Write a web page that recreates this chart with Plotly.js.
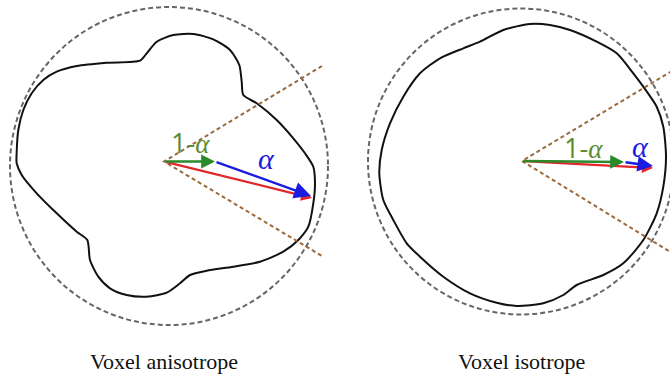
<!DOCTYPE html>
<html>
<head>
<meta charset="utf-8">
<script src="https://cdn.plot.ly/plotly-3.0.1.min.js"></script>
<style>html,body{margin:0;padding:0;background:#fff;}#chart{width:670px;height:376px;}</style>
</head>
<body>
<div id="chart"></div>
<script>
// Outline of the anisotropic voxel response (pixel-space points)
const anisoX = [16.7,18.3,23.3,31.7,43.3,56.7,76.7,106.7,140,146.7,156.7,173.3,193.3,213.3,230,239.3,241.7,243.3,256.7,276.7,293.3,305,313.3,315,313.3,308.3,298.3,283.3,260,233.3,206.7,190,180,166.7,146.7,126.7,110,98.3,90,87.3,76.7,56.7,36.7,21.7,16.7,16.7];
const anisoY = [151.7,130,110,93.3,80,71.7,66,62.7,60.7,53.3,41.7,35,34,39.3,50,65,81.7,95,103.3,120,138.3,153.3,166.7,183.3,203.3,226.7,240,251.7,261.7,266.7,270.7,275,283.3,292.7,296.7,295,288.3,276.7,260,240,231.7,213.3,193.3,175,163.3,151.7];
// Outline of the isotropic voxel response
const isoX = [530,503.3,480,463.3,440,420,403.3,390,381.7,379.3,383.3,393.3,406.7,420,443.3,470,496.7,516.7,543.3,563.3,576.7,603.3,623.3,643.3,656.7,663.3,666,663.3,656.7,643.3,633.3,616.7,596.7,570,550,530];
const isoY = [24,30,41.7,48.3,58.3,73.3,96.7,123.3,150,173.3,200,220,243.3,256.7,276.7,293.3,302.7,306,303.3,295,285,275,263.3,240,213.3,186.7,156.7,126.7,106.7,86.7,73.3,53.3,41.7,30,25,24];

// Reference (bounding) circles: [cx, cy, r]
const anisoCircle = [169, 166, 159];
const isoCircle = [521, 161.5, 153];

// Vector points: origin, (1-alpha) tip, final tip
const anisoOrigin = [164, 161.5];
const anisoGreenTip = [215, 161.5];
const anisoBlueTip = [311, 196];
const anisoRedTip = [312, 198];
const isoOrigin = [522, 161];
const isoGreenTip = [624, 162];
const isoBlueTip = [653, 166];
const isoRedTip = [653, 168];

// Cone edges (dotted brown lines): end points
const anisoConeUp = [322, 66];
const anisoConeDown = [322, 256];
const isoConeUp = [672, 71];
const isoConeDown = [672, 253];

// Texts
const panelLabels = ["Voxel anisotrope", "Voxel isotrope"];
const panelLabelX = [164, 521];
const greenLabel = "1-<span style=\"font-family:'Liberation Serif'\"><i>α</i></span>";
const blueLabel = "<span style=\"font-family:'Liberation Serif'\"><i>α</i></span>";

const outlineStyle = {color: '#111', width: 2, shape: 'spline', smoothing: 0.7};
const coneStyle = {color: '#9a6a3a', width: 2, dash: '4px,3px'};

const traces = [
  {x: anisoX, y: anisoY, mode: 'lines', line: outlineStyle, hoverinfo: 'skip'},
  {x: isoX, y: isoY, mode: 'lines', line: outlineStyle, hoverinfo: 'skip'},
  {x: [anisoConeUp[0], anisoOrigin[0], anisoConeDown[0]], y: [anisoConeUp[1], anisoOrigin[1], anisoConeDown[1]], mode: 'lines', line: coneStyle, hoverinfo: 'skip'},
  {x: [isoConeUp[0], isoOrigin[0], isoConeDown[0]], y: [isoConeUp[1], isoOrigin[1], isoConeDown[1]], mode: 'lines', line: coneStyle, hoverinfo: 'skip'}
];

function circleShape(c) {
  return {type: 'circle', xref: 'x', yref: 'y', x0: c[0]-c[2], x1: c[0]+c[2], y0: c[1]-c[2], y1: c[1]+c[2],
          line: {color: '#666', width: 2, dash: '5px,3px'}, layer: 'below'};
}

function arrow(from, to, color, width, size) {
  return {x: to[0], y: to[1], ax: from[0], ay: from[1], xref: 'x', yref: 'y', axref: 'x', ayref: 'y',
          text: '', showarrow: true, arrowhead: 2, arrowwidth: width, arrowsize: size, arrowcolor: color, standoff: 0, startstandoff: 0};
}

const annotations = [
  arrow(anisoOrigin, anisoRedTip, '#e3262a', 2.2, 1.0),
  arrow(anisoOrigin, anisoGreenTip, '#2a8a2a', 2.4, 1.15),
  arrow(anisoGreenTip, anisoBlueTip, '#1c1ce0', 2.4, 1.4),
  arrow(isoOrigin, isoRedTip, '#e3262a', 2.2, 1.0),
  arrow(isoOrigin, isoGreenTip, '#2a8a2a', 2.4, 1.15),
  arrow(isoGreenTip, isoBlueTip, '#1c1ce0', 2.4, 1.3),
  {x: 190, y: 142, xref: 'x', yref: 'y', text: greenLabel, showarrow: false, font: {family: 'Open Sans', size: 27, color: '#5a8c30'}},
  {x: 266, y: 158, xref: 'x', yref: 'y', text: blueLabel, showarrow: false, font: {family: 'Open Sans', size: 30, color: '#1c1ce0'}},
  {x: 583, y: 147, xref: 'x', yref: 'y', text: greenLabel, showarrow: false, font: {family: 'Open Sans', size: 27, color: '#5a8c30'}},
  {x: 640, y: 146, xref: 'x', yref: 'y', text: blueLabel, showarrow: false, font: {family: 'Open Sans', size: 30, color: '#1c1ce0'}},
  {x: panelLabelX[0], y: 361, xref: 'x', yref: 'y', text: panelLabels[0], showarrow: false, font: {family: 'Liberation Serif', size: 22, color: '#111'}},
  {x: panelLabelX[1], y: 361, xref: 'x', yref: 'y', text: panelLabels[1], showarrow: false, font: {family: 'Liberation Serif', size: 22, color: '#111'}}
];

const layout = {
  width: 670, height: 376,
  margin: {l: 0, r: 0, t: 0, b: 0, pad: 0},
  paper_bgcolor: '#fff', plot_bgcolor: '#fff',
  showlegend: false,
  xaxis: {range: [0, 670], visible: false, fixedrange: true},
  yaxis: {range: [376, 0], visible: false, fixedrange: true},
  shapes: [circleShape(anisoCircle), circleShape(isoCircle)],
  annotations: annotations
};

Plotly.newPlot('chart', traces, layout, {displayModeBar: false, staticPlot: true});
</script>
</body>
</html>
